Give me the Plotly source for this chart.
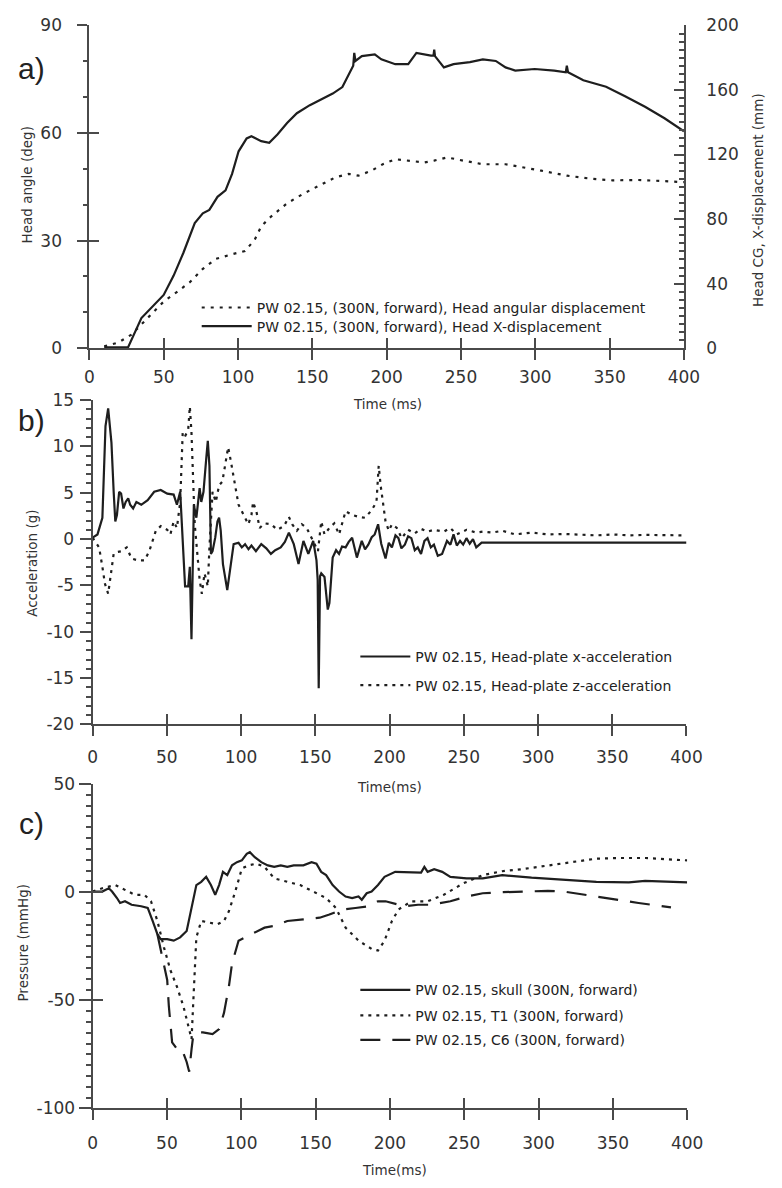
import plotly.graph_objects as go

# ---------------- Panel a data ----------------
t_ang = [10, 19.6, 28.3, 35, 41.4, 50, 59, 67.6, 76.3, 85, 96, 104.7, 111.3, 115.6, 122.2,
         133, 144, 155, 165.8, 174.5, 181, 189.8, 197.4, 205.8, 216.7, 225.4, 231.9, 240.7,
         251.6, 264.7, 280, 290.9, 304, 321.4, 338.9, 352, 369.4, 386.9, 400]
head_ang = [0.5, 1.6, 3.8, 6.6, 9.3, 13, 15.7, 18.4, 22.1, 24.9, 26.2, 27.1, 30.3, 34, 36.7,
            40.4, 43.1, 45.4, 47.7, 48.6, 48.1, 49.5, 51.3, 52.7, 52.3, 51.8, 52.3, 53.2,
            52.3, 51.3, 51.3, 50.4, 49.5, 48.1, 47.2, 46.8, 46.9, 46.6, 46.3]

t_xd = [10, 26, 35, 43.6, 50, 56.7, 63.2, 70.9, 76.3, 80.7, 86.2, 91.6, 96, 100.4, 105.8, 109,
        115.6, 121, 126.5, 133, 139.6, 148.3, 157, 163.7, 170.2, 175.6, 177.5, 178.2, 179,
        183.3, 192, 196.4, 205.8, 214.5, 220, 229.8, 231.5, 232, 232.5, 238.5, 245, 256, 264.7,
        273.4, 280, 286.5, 299.6, 312.7, 320.5, 321.2, 322, 332.3, 347.6, 360.7, 373.8, 386.9, 400]
head_xd = [0.5, 0.5, 18.7, 26.8, 33, 45, 59, 77.5, 83.6, 85.7, 93.8, 97.8, 108, 122, 130, 131.4,
           128.3, 127.3, 132.4, 139.5, 145.6, 150.6, 154.7, 157.8, 161.8, 171, 175, 183, 178,
           181, 182, 179, 176, 176, 183, 181.3, 181.3, 185, 181, 174, 176, 177.3, 179,
           178, 174, 172, 173, 172, 171, 175, 171, 166, 162, 156, 149.6, 142.5, 134.4]

# ---------------- Panel b data ----------------
t_ax = [0, 3.3, 6.6, 8.7, 10.5, 12.7, 14.2, 15.3, 16.4, 17.9, 19.2, 20.8, 22.3, 24, 25.3, 27.3,
        29.5, 32.8, 37.1, 41.5, 45.9, 50.3, 54.6, 56.8, 59, 60.5, 62.3, 64.4, 65.5, 66.6, 68.2,
        69.9, 72.1, 73.2, 74.7, 76.5, 77.6, 78.7, 79.7, 80.8, 82.6, 84.1, 85.2, 86.3, 87.8, 90.7,
        92.9, 95, 98.3, 100.5, 102.7, 105, 107, 110, 113.6, 117, 120.1, 123, 126.7, 129.5,
        132.2, 135.5, 138.7, 142, 145.3, 148.6,
        150.8, 151.6, 152.3, 153.2, 154, 156.2, 158.4, 159.5, 161.7, 164, 166, 168, 170.4,
        172.5, 174.8, 178, 181.3, 183.5, 185.7, 188, 190, 192.3, 194.4, 197.3, 199.5, 201.6,
        204, 206, 208, 210.3, 212.5, 214.7, 217, 219, 221.2, 223.5, 225.6, 227.8,
        229.9, 232.5, 235.4, 238.7, 241, 243.1, 245.3, 247.5, 249.6, 251.8, 254, 256.2, 258.4,
        262, 300, 350, 400]
acc_x = [0.15, 0.5, 2.3, 12.2, 14.1, 10.4, 5.1, 1.9, 2.6, 5.1, 4.9, 3.3, 4.0, 4.4, 3.7, 3.3,
         4.0, 3.7, 4.2, 5.1, 5.3, 4.9, 4.8, 3.7, 5.1, 0.9, -5.1, -5.1, -3.0, -10.8, 3.7,
         2.3, 5.5, 4.0, 5.1, 8.6, 10.6, 7.9, -1.6, -1.3, 0.15, 1.9, 2.3, 0.9, -2.7, -5.5,
         -2.7, -0.55, -0.4, -0.9, -0.55, -1.1, -0.7, -1.3, -0.55, -1.0, -1.6, -1.2, -0.9, -0.3,
         0.7, -0.55, -2.7, -0.2, -1.6, -0.2,
         -2.3, -4.4, -16.1, -4.0, -3.7, -4.1, -7.6, -6.9, -2.0, -1.2, -1.6, -0.8, -0.9,
         -0.3, 0.15, -2.0, -0.2, -1.1, -0.6, 0.2, 0.5, 1.6, -0.5, -2.1, -0.4, -0.9,
         0.4, 0.1, -1.0, -0.6, 0.3, 0.1, -1.2, -0.9, -1.6, -0.2, 0.1, -0.9,
         -0.6, -1.8, -1.6, -0.2, -0.6, 0.5, -0.7, -0.2, -0.6, 0.1, -0.5, 0.0, -0.9,
         -0.38, -0.38, -0.38, -0.38]

t_az = [0, 4.4, 6.6, 8.3, 10.5, 12, 14.2, 16.4, 19.7, 23, 26.2, 30.6, 35, 38.2, 42.6, 45.9,
        50.3, 52.4, 54.6, 56.8, 59, 60.7, 62.3, 64.4, 65.5, 66.6, 67.7, 68.8, 72.1, 73.6, 75.4,
        77.6, 78.7, 80.8, 83, 85.2, 87.4, 89.6, 91.3, 92.9, 95, 98.3, 102.7, 104.9, 107, 108.1,
        110.3, 112.5, 115.8, 120.2, 124.5, 128.9, 132.2, 134.4, 137.6, 140.9, 144.2, 148.6,
        151.8, 154, 156.2, 159.5, 162.8, 166, 170.4, 174.8, 179.2, 183.5, 187.9, 191.2, 192.7,
        194, 197.3, 199.5, 201.6, 204.9, 208.2, 212.5, 216.9, 221.2, 225.6, 230, 236.5, 240.9,
        245.3, 251.8, 258.4, 262.8, 269.3, 275.9, 284.6, 295.6, 306.5, 317.4, 328.3, 339.3,
        350.2, 361.1, 372, 383, 398.3]
acc_z = [0.15, -0.9, -3.0, -4.8, -5.9, -4.1, -1.6, -1.4, -1.3, -0.9, -2.1, -2.3, -2.3, -1.3,
         0.9, 1.4, 1.0, 0.5, 1.9, 1.2, 4.0, 11.5, 11.1, 11.8, 14.3, 11.5, 5.1, 1.6, -4.4, -5.9,
         -3.7, -5.1, -0.9, 5.1, 4.0, 5.8, 6.2, 8.6, 9.9, 8.6, 6.5, 3.7, 2.3, 1.6, 2.6, 4.0,
         3.0, 1.2, 1.7, 1.6, 1.0, 1.4, 2.4, 1.6, 0.9, 1.6, 1.2, -0.2,
         -1.3, 1.9, 0.5, 1.2, 1.7, 0.5, 3.0, 2.6, 2.4, 2.3, 3.1, 4.0, 7.9,
         5.8, 1.9, 0.9, 1.6, 1.2, 0.1, 1.0, 0.6, 1.1, 0.8, 1.0, 0.8, 1.2,
         0.5, 1.0, 0.7, 0.8, 0.7, 0.9, 0.5, 0.7, 0.5, 0.55, 0.5, 0.4,
         0.5, 0.4, 0.45, 0.4, 0.4]

# ---------------- Panel c data ----------------
t_skull = [0, 6.5, 10.9, 13.1, 16.4, 18.5, 21.8, 26.2, 32.7, 37.1, 40.4, 43.6, 45.8, 50.2, 54.6,
           58.9, 63.3, 66.6, 69.8, 73.1, 76.4, 79.6, 82.5, 85.1, 87.7, 90.6, 93.8, 97.1, 100.4,
           103.7, 105.8, 109.1, 113.5, 117.9, 122.2, 126.6, 131, 135.3, 141.8, 147.3, 150.6,
           153.8, 157.1, 161.5, 165.8, 170.2, 174.6, 178.9, 181.1, 184.4, 187.7, 192, 196.4,
           203.6, 214.5, 221, 223.2, 225.4, 229.8, 235.2, 240.7, 251.6, 262.5, 275.6, 295.3,
           317.1, 338.9, 360.8, 371.7, 400]
p_skull = [0.3, 0.3, 1.8, 0.3, -2.7, -5, -4.2, -5.8, -6.5, -7.3, -13.3, -19.4, -21.7, -21.7,
           -22.4, -20.9, -17.9, -7.3, 3.3, 4.8, 7.1, 3.3, -1.2, 3.3, 9.4, 7.9, 12.4, 13.9, 14.7,
           17.7, 18.5, 16.2, 13.9, 12.4, 11.7, 12.4, 11.7, 12.4, 12.4, 13.9, 13.2,
           9.4, 7.9, 3.3, 0.3, -2, -2.7, -2, -3.5, -0.5, 0.3, 3.3, 7.1,
           9.4, 9.1, 9.1, 11.7, 9.4, 10.6, 9.4, 7.1, 6.4, 6.4, 7.9, 6.7,
           5.6, 4.8, 4.5, 5.2, 4.5]

t_t1 = [0, 6.5, 15.3, 21.8, 28.4, 34.9, 39.3, 43.6, 48, 52.4, 56.7, 61.1, 63.3, 65.5, 66.6,
        67.6, 68.7, 69.8, 73.1, 78.6, 84, 88.4, 91.7, 96, 100.4, 104.7, 110.2, 115.7, 122.2,
        131, 139.7, 148.4, 157.1, 163.7, 170.2, 178.9, 187.7, 192, 196.4, 201.4, 205.8, 214.5,
        225.4, 236.3, 249.4, 262.5, 275.6, 288.7, 306.2, 323.6, 338.9, 354.2, 371.7, 400]
p_t1 = [0.3, 1.8, 3.3, 1.1, -1.2, -1.2, -4.2, -13.3, -25.5, -36.1, -43.6, -52.7, -58.8, -64.8,
        -67.9, -52.7, -36.1, -20.9, -13.3, -14.1, -14.8, -13.3, -8.8, 0.3, 10.9, 12.4, 13.2,
        11.7, 6.4, 4.8, 3.3, 0.3, -2.7, -7.3, -16.4, -22.4, -26.2, -27, -22.4, -13.3, -8,
        -4.2, -4.2, -1.2, 4.1, 7.9, 9.7, 10.6, 12.4, 13.9, 15.5, 15.8, 15.8, 14.7]

t_c6 = [43.6, 48, 50.2, 51.3, 52.4, 53.5, 56.7, 60, 63.3, 65, 66.6, 67.7, 69.8, 74.2, 80.7, 85.1,
        88.4, 91.7, 93.8, 98.2, 106.9, 115.7, 122.2, 131, 141.8, 152.8, 159.3, 168, 176.8,
        185.5, 192, 197.1, 210.2, 218.9, 227.6, 240.7, 251.6, 262.5, 275.6, 290.9, 306.2,
        317.1, 328, 338.9, 354.2, 367.3, 389.1]
p_c6 = [-19.4, -33, -40.6, -52.7, -61.8, -69.4, -72.4, -72.4, -78.5, -83, -72.4, -66.4, -64.8,
        -64.8, -65.6, -63.3, -55.8, -43.6, -33, -22.4, -19.4, -16.4, -15.6, -13.3, -12.6, -11.8,
        -10.3, -8, -7.3, -6.5, -4.2, -4.2, -6.5, -5.8, -5.8, -4.2, -2, -0.5, 0, 0.3, 0.6,
        0.3, -0.9, -2, -3.9, -5, -7]

# ---------------- ticks ----------------
x_ticks = [0, 50, 100, 150, 200, 250, 300, 350, 400]
ya_ticks = [0, 30, 60, 90]
ya2_ticks = [0, 40, 80, 120, 160, 200]
yb_ticks = [-20, -15, -10, -5, 0, 5, 10, 15]
yb_text = ["-20", "-15", "-10", "-5", "0", "5", "10", "15"]
yc_ticks = [-100, -50, 0, 50]
yc_text = ["-100", "-50", "0", "50"]

names = {
    "a_dot": "PW 02.15, (300N, forward), Head angular displacement",
    "a_sol": "PW 02.15, (300N, forward), Head X-displacement",
    "b_sol": "PW 02.15, Head-plate x-acceleration",
    "b_dot": "PW 02.15, Head-plate z-acceleration",
    "c_sol": "PW 02.15, skull (300N, forward)",
    "c_dot": "PW 02.15, T1 (300N, forward)",
    "c_dash": "PW 02.15, C6 (300N, forward)",
}

W, H = 782, 1188
def px(x):
    return x / W
def py(y):
    return 1 - y / H

LINE = "#1e1e1e"
AX = "#4a4a4a"
TICKFONT = dict(family="DejaVu Sans", size=17, color="#333333")
LEGFONT = dict(family="DejaVu Sans", size=14, color="#222222")
TITLEFONT = dict(family="DejaVu Sans", size=13.5, color="#333333")
DOT_A = "3px,6px"
DOT = "3px,5px"
DASH = "20px,12px"

fig = go.Figure()

def add(x, y, xa, ya, dash, name, legend):
    fig.add_trace(go.Scatter(x=x, y=y, xaxis=xa, yaxis=ya, mode="lines", name=name,
                             legend=legend, line=dict(color=LINE, width=2.2, dash=dash),
                             hoverinfo="skip"))

def empty(xa, ya):
    fig.add_trace(go.Scatter(x=[], y=[], xaxis=xa, yaxis=ya, mode="lines", showlegend=False,
                             hoverinfo="skip"))

add(t_ang, head_ang, "x", "y", DOT_A, names["a_dot"], "legend")
add(t_xd, head_xd, "x", "y2", "solid", names["a_sol"], "legend2")
add(t_ax, acc_x, "x2", "y3", "solid", names["b_sol"], "legend3")
add(t_az, acc_z, "x2", "y3", DOT, names["b_dot"], "legend4")
add(t_skull, p_skull, "x3", "y4", "solid", names["c_sol"], "legend5")
add(t_t1, p_t1, "x3", "y4", DOT, names["c_dot"], "legend6")
add(t_c6, p_c6, "x3", "y4", DASH, names["c_dash"], "legend7")

# overlay axes for crossing ticks
empty("x4", "y")
empty("x", "y7")
empty("x5", "y3")
empty("x6", "y4")
empty("x3", "y5")

base = dict(showgrid=False, zeroline=False, showline=True, linecolor=AX, linewidth=2,
            tickcolor=AX, tickwidth=2, tickfont=TICKFONT, fixedrange=True)

def xax(domain, anchor, standoff):
    d = dict(base)
    d.update(domain=domain, anchor=anchor, range=[0, 400], tickmode="array", tickvals=x_ticks,
             ticks="outside", ticklen=10, ticklabelstandoff=standoff)
    return d

def xover(over, anchor):
    return dict(overlaying=over, anchor=anchor, range=[0, 400], tickmode="array",
                tickvals=x_ticks, ticks="inside", ticklen=10, tickwidth=2, tickcolor=AX,
                showticklabels=False, showline=False, showgrid=False, zeroline=False)

def yover(over, anchor, rng, vals, ln):
    return dict(overlaying=over, anchor=anchor, side="left", range=rng, tickmode="array",
                tickvals=vals, ticks="inside", ticklen=ln, tickwidth=2, tickcolor=AX,
                showticklabels=False, showline=False, showgrid=False, zeroline=False)

dom_a_x = [px(86.7), px(697.7)]
dom_a_y = [py(344), py(15.7)]
dom_b_x = [px(90), px(700.3)]
dom_b_y = [py(726.7), py(396.7)]
dom_c_x = [px(90), px(701)]
dom_c_y = [py(1117.3), py(787.3)]

ya = dict(base)
ya.update(domain=dom_a_y, anchor="x", range=[0, 90], tickmode="array", tickvals=ya_ticks,
          ticks="outside", ticklen=10, ticklabelstandoff=12,
          minor=dict(ticks="outside", dtick=10, ticklen=4, tickwidth=1.5, tickcolor=AX))
ya2 = dict(base)
ya2.update(overlaying="y", side="right", anchor="x", range=[0, 200], tickmode="array",
           tickvals=ya2_ticks, ticks="inside", ticklen=10, ticklabelstandoff=17,
           minor=dict(ticks="inside", dtick=5, ticklen=5, tickwidth=1.5, tickcolor=AX))
yb = dict(base)
yb.update(domain=dom_b_y, anchor="x2", range=[-20, 15], tickmode="array", tickvals=yb_ticks,
          ticktext=yb_text, ticks="outside", ticklen=11, ticklabelstandoff=2,
          minor=dict(ticks="outside", dtick=1, ticklen=5, tickwidth=1.5, tickcolor=AX))
yc = dict(base)
yc.update(domain=dom_c_y, anchor="x3", range=[-100, 50], tickmode="array", tickvals=yc_ticks,
          ticktext=yc_text, ticks="outside", ticklen=12, ticklabelstandoff=0,
          minor=dict(ticks="outside", dtick=5, ticklen=5, tickwidth=1.5, tickcolor=AX))

def leg(x, y):
    return dict(x=px(x), y=py(y), xanchor="left", yanchor="middle", bgcolor="rgba(0,0,0,0)",
                borderwidth=0, font=LEGFONT, itemwidth=50, xref="paper", yref="paper")

annots = []
def txt(s, x, y, font, angle=0):
    annots.append(dict(text=s, x=px(x), y=py(y), xref="paper", yref="paper", showarrow=False,
                       xanchor="center", yanchor="middle", font=font, textangle=angle))

PANELFONT = dict(family="Liberation Sans", size=30, color="#222222")
txt("a)", 27, 59, PANELFONT)
txt("b)", 27, 418, PANELFONT)
txt("c)", 27, 827, PANELFONT)
txt("Head angle (deg)", 23, 178, TITLEFONT, -90)
txt("Head CG, X-displacement (mm)", 774, 193, TITLEFONT, -90)
txt("Time (ms)", 393, 401, TITLEFONT)
txt("Acceleration (g)", 27, 563, TITLEFONT, -90)
txt("Time(ms)", 395, 790, TITLEFONT)
txt("Pressure (mmHg)", 19, 948, TITLEFONT, -90)
txt("Time(ms)", 400, 1180, TITLEFONT)

fig.update_layout(
    width=W, height=H, margin=dict(l=0, r=0, t=0, b=0),
    paper_bgcolor="white", plot_bgcolor="rgba(0,0,0,0)",
    xaxis=xax(dom_a_x, "y", 2),
    xaxis2=xax(dom_b_x, "y3", 6),
    xaxis3=xax(dom_c_x, "y4", 8),
    xaxis4=xover("x", "y"),
    xaxis5=xover("x2", "y3"),
    xaxis6=xover("x3", "y4"),
    yaxis=ya, yaxis2=ya2, yaxis3=yb, yaxis4=yc,
    yaxis5=yover("y4", "x3", [-100, 50], yc_ticks, 10),
    yaxis7=yover("y", "x", [0, 90], ya_ticks, 10),
    legend=leg(197, 303), legend2=leg(197, 322),
    legend3=leg(360, 658), legend4=leg(360, 687),
    legend5=leg(360, 997), legend6=leg(360, 1023), legend7=leg(360, 1048),
    annotations=annots,
    showlegend=True,
)

fig.write_html("out.html")
